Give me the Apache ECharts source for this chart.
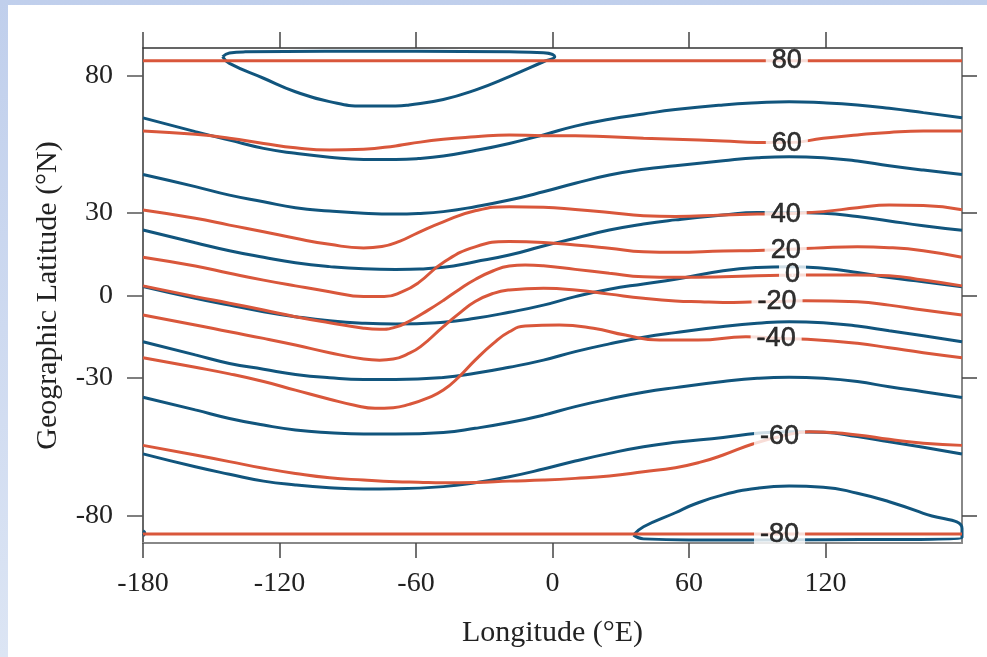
<!DOCTYPE html>
<html>
<head>
<meta charset="utf-8">
<script src="https://cdn.jsdelivr.net/npm/echarts@6/dist/echarts.min.js"></script>
<style>
  html, body { margin: 0; padding: 0; width: 987px; height: 657px; overflow: hidden;
    background: linear-gradient(to bottom, #c0cfec, #dce5f4); }
  #chart { position: absolute; left: 8px; top: 5px; width: 979px; height: 652px; background: #fff; }
</style>
</head>
<body>
<div id="chart"></div>
<script>
// tick positions
const lonTicks = [-180, -120, -60, 0, 60, 120];
const latTicks = [80, 30, 0, -30, -80];

// blue contours, [longitude, latitude]
const blue80 = [[-145, 86.8], [-142, 84.4], [-127, 79], [-113, 74.1], [-98, 70.5], [-83, 68.9], [-69, 68.9],
    [-63, 69.3], [-48, 71.3], [-34, 74.7], [-19, 79.6], [-4, 85], [1, 86.8], [-4, 88.3], [-19, 88.6],
    [-60, 88.8], [-100, 88.8], [-135, 88.6], [-142, 88.2], [-145, 86.8]];
const blue60 = [[-180, 64.6], [-157, 59.6], [-142, 56.5], [-127, 53.5], [-113, 51.7], [-98, 50.3], [-83, 49.5],
    [-69, 49.5], [-59, 49.8], [-48, 50.7], [-34, 52.7], [-19, 55.3], [-4, 58.4], [10, 61.6], [25, 64.1], [40, 66],
    [54, 67.6], [75, 69.3], [90, 70.1], [104, 70.5], [119, 70.1], [134, 69.3], [148, 68.1], [163, 66.5], [180, 64.6]];
const blue40 = [[-180, 44], [-157, 39.6], [-142, 36.5], [-127, 34.1], [-113, 31.9], [-98, 30.7], [-83, 29.9],
    [-69, 29.6], [-59, 29.8], [-48, 30.5], [-34, 32.3], [-19, 34.7], [-4, 37.7], [10, 40.8], [25, 43.8], [40, 45.9],
    [54, 47.2], [75, 49], [90, 50.1], [104, 50.5], [119, 50.1], [134, 48.9], [148, 47.2], [163, 45.6], [180, 44]];
const blue20 = [[-180, 23.8], [-157, 19.2], [-142, 16.3], [-127, 13.9], [-113, 11.9], [-98, 10.5], [-83, 9.7],
    [-69, 9.5], [-48, 10.3], [-34, 12.3], [-19, 14.7], [-4, 18], [10, 20.8], [25, 23.8], [40, 26], [54, 27.5],
    [75, 29.3], [90, 30.2], [104, 30.2], [119, 29.9], [134, 28.7], [148, 27.1], [163, 25.4], [180, 23.7]];
const blue0 = [[-180, 3.3], [-157, -1], [-142, -3.5], [-127, -5.9], [-113, -7.7], [-98, -9.2], [-83, -10.1],
    [-69, -10.4], [-48, -9.7], [-34, -8.3], [-19, -6.1], [-4, -3.5], [10, -0.4], [25, 2.3], [40, 4.2], [54, 5.9],
    [75, 9], [90, 10.2], [104, 10.5], [119, 9.9], [134, 8.4], [148, 6.5], [163, 5], [180, 3.2]];
const blueS20 = [[-180, -16.8], [-157, -21.6], [-142, -24.7], [-127, -26.8], [-113, -28.7], [-98, -29.9],
    [-83, -30.5], [-69, -30.5], [-48, -29.8], [-34, -28.3], [-19, -26.1], [-4, -23.5], [10, -20.4], [25, -17.6],
    [40, -15.2], [54, -13.5], [75, -11.3], [90, -10.1], [104, -9.5], [119, -9.9], [134, -11.1], [148, -12.8],
    [163, -14.6], [180, -16.8]];
const blueS40 = [[-180, -37], [-157, -41.6], [-142, -44.7], [-127, -47.1], [-113, -48.9], [-98, -49.9],
    [-83, -50.4], [-69, -50.4], [-48, -49.8], [-34, -48.3], [-19, -46.2], [-4, -43.5], [10, -40.4], [25, -37.6],
    [40, -35.2], [54, -33.5], [75, -31.3], [90, -30.1], [104, -29.7], [119, -30.1], [134, -31.3], [148, -33.2],
    [163, -35], [180, -37.1]];
const blueS60 = [[-180, -57.6], [-157, -62.3], [-142, -65], [-127, -67.5], [-113, -68.9], [-98, -69.9],
    [-83, -70.4], [-69, -70.3], [-48, -69.5], [-34, -68.1], [-19, -65.9], [-4, -63.1], [10, -60.2], [25, -57.4],
    [40, -55], [54, -53.4], [75, -51.6], [90, -50.1], [104, -49.5], [119, -49.7], [134, -51.3], [148, -53.2],
    [163, -55.2], [180, -57.6]];
const blueS80 = [[35.6, -87.1], [40, -84.1], [54, -79], [62, -76], [75, -72.5], [90, -70.1], [104, -69.3],
    [119, -69.7], [134, -71.9], [148, -75], [163, -79.2], [180, -84.7], [180, -88], [120, -88.8], [60, -88.9],
    [40, -88.5], [35.6, -87.1]];
const blueS80Wrap = [[-180, -85.6], [-179.2, -86.4], [-180, -87.4]];

// red contours, [longitude, latitude]
const red80 = [[-180, 85.4], [180, 85.4]];
const red60 = [[-180, 59.8], [-157, 58.6], [-142, 57.2], [-127, 55.3], [-113, 53.7], [-98, 52.9], [-83, 53.2],
    [-69, 54.4], [-63, 55.2], [-48, 56.8], [-34, 57.7], [-19, 58.4], [-4, 58.1], [10, 58.1], [25, 57.7], [40, 57.2],
    [54, 56.8], [75, 56.2], [90, 55.6], [104, 55.6], [119, 57.2], [134, 58.4], [148, 59.3], [163, 59.8], [180, 59.8]];
const red40 = [[-180, 31.1], [-157, 28.1], [-142, 25.6], [-127, 23.2], [-113, 20.8], [-98, 18.6], [-83, 17.3],
    [-75, 17.8], [-67, 19.8], [-59, 22.9], [-48, 26.8], [-34, 30.8], [-19, 32.3], [-4, 32.1], [10, 31.3], [25, 30.2],
    [40, 29], [54, 28.7], [75, 29.3], [90, 29.6], [104, 29.8], [119, 30.5], [134, 31.9], [148, 32.9], [163, 32.7],
    [180, 31.2]];
const red20 = [[-180, 13.9], [-157, 10.7], [-142, 8.1], [-127, 5.6], [-113, 3.5], [-98, 1.4], [-83, -0.4],
    [-74, -0.4], [-66, 1.4], [-59, 4.6], [-48, 12], [-34, 17.7], [-19, 19.6], [-4, 19.3], [10, 18.4], [25, 17.2],
    [40, 15.9], [54, 15.7], [75, 16.2], [90, 16.4], [104, 16.8], [119, 17.4], [134, 17.7], [148, 17.4], [163, 16.3],
    [180, 13.9]];
const red0 = [[-180, 3.5], [-157, -0.4], [-142, -2.8], [-127, -5.3], [-113, -7.7], [-98, -9.9], [-83, -11.9],
    [-76, -12.3], [-69, -11.5], [-62, -8.9], [-55, -5.5], [-48, -1.8], [-41, 2.2], [-34, 5.8], [-26, 9], [-19, 10.7],
    [-12, 11.1], [-4, 10.8], [10, 9.5], [25, 8.1], [40, 6.8], [54, 6.6], [75, 6.8], [90, 7.2], [105, 7.4], [119, 7.5],
    [134, 7.5], [148, 7.2], [163, 5.6], [180, 3.5]];
const redS20 = [[-180, -7.1], [-157, -10.7], [-142, -13.2], [-127, -15.6], [-113, -18], [-98, -20.8],
    [-83, -23.1], [-76, -23.5], [-70, -23.1], [-64, -21.4], [-58, -18.6], [-48, -11.3], [-41, -6.5], [-34, -2.2],
    [-26, 0.8], [-19, 2], [-4, 2.6], [10, 2], [25, 0.5], [40, -1], [54, -2], [65, -2.3], [75, -2.5], [90, -2.3],
    [100, -2.2], [111, -1.9], [134, -2.3], [148, -3.5], [163, -5.3], [180, -7.1]];
const redS40 = [[-180, -22.6], [-157, -26.1], [-142, -28.5], [-127, -31.3], [-113, -34.4], [-98, -37.7],
    [-87, -39.9], [-78, -41], [-70, -40.8], [-63, -39.6], [-55, -37.3], [-48, -34.4], [-41, -29.5], [-34, -23.5],
    [-26, -17.4], [-19, -13.2], [-12, -11.1], [3, -10.7], [18, -11.9], [32, -14.4], [47, -16.2], [64, -16.2],
    [85, -15], [100, -15.6], [112, -15.9], [134, -17.4], [148, -19], [163, -20.8], [180, -22.6]];
const redS60 = [[-180, -54.5], [-157, -58], [-142, -60.4], [-127, -62.8], [-113, -64.7], [-98, -66.3],
    [-83, -67.1], [-69, -67.7], [-59, -67.9], [-48, -68.1], [-34, -68], [-19, -67.5], [-4, -67.1], [10, -66.5],
    [25, -65.6], [40, -64.1], [54, -62.6], [65, -60.6], [75, -58], [88, -54], [100, -51.3], [113, -49.5],
    [134, -50.7], [148, -52.3], [163, -53.7], [180, -54.5]];
const redS80 = [[-180, -86.7], [180, -86.7]];

// contour labels
const labelText = ['80', '60', '40', '20', '0', '-20', '-40', '-60', '-80'];
const labelLon = [103, 103, 102.5, 102.5, 105.5, 98.7, 98.3, 99.8, 99.8];
const labelLat = [85.3, 55.3, 29.6, 16.5, 7.5, -2.2, -15.8, -51.3, -86.8];

const blueLines = [blue80, blue60, blue40, blue20, blue0, blueS20, blueS40, blueS60, blueS80, blueS80Wrap];
const redLines = [red80, red60, red40, red20, red0, redS20, redS40, redS60, redS80];

const BLUE = '#11557d';
const RED = '#d9573b';
const serif = '"Liberation Serif", "DejaVu Serif", serif';

function lineSeries(data, color) {
    return {
        type: 'line',
        data: data,
        smooth: 0.5,
        showSymbol: false,
        symbol: 'none',
        silent: true,
        lineStyle: { color: color, width: 3 },
        z: color === RED ? 3 : 2
    };
}

const series = [];
blueLines.forEach(function (d) { series.push(lineSeries(d, BLUE)); });
redLines.forEach(function (d) { series.push(lineSeries(d, RED)); });
series.push({
    type: 'scatter',
    data: labelText.map(function (t, i) { return [labelLon[i], labelLat[i], t]; }),
    symbolSize: 2,
    itemStyle: { color: '#fff' },
    z: 5,
    silent: true,
    label: {
        show: true,
        position: 'inside',
        formatter: function (p) { return p.value[2]; },
        fontFamily: '"Liberation Sans", Arial, sans-serif',
        fontSize: 27,
        color: '#000',
        textBorderColor: '#000',
        textBorderWidth: 0.6,
        backgroundColor: '#fff',
        lineHeight: 20,
        padding: [0, 6]
    },
    labelLayout: { hideOverlap: false }
});

const chart = echarts.init(document.getElementById('chart'));

function xAxisBase(pos) {
    return {
        type: 'value',
        position: pos,
        min: -180,
        max: 180,
        interval: 60,
        splitLine: { show: false }
    };
}

const option = {
    animation: false,
    grid: { left: 135, top: 43, right: 25, bottom: 114 },
    xAxis: [Object.assign(xAxisBase('bottom'), {
        name: 'Longitude (°E)',
        nameLocation: 'middle',
        nameGap: 75,
        nameTextStyle: { fontFamily: serif, fontSize: 30, color: '#222' },
        axisLine: { show: true, onZero: false, lineStyle: { color: '#888', width: 2 } },
        axisTick: { show: true, inside: false, length: 15, customValues: lonTicks, lineStyle: { color: '#444', width: 1.5 } },
        axisLabel: { customValues: lonTicks, margin: 27, fontFamily: serif, fontSize: 28, color: '#222' }
    }), Object.assign(xAxisBase('top'), {
        axisLine: { show: true, onZero: false, lineStyle: { color: '#333', width: 1.5 } },
        axisTick: { show: true, inside: false, length: 16, customValues: lonTicks, lineStyle: { color: '#444', width: 1.5 } },
        axisLabel: { show: false }
    })],
    yAxis: [{
        type: 'value',
        position: 'left',
        min: -90,
        max: 90,
        interval: 10,
        name: 'Geographic Latitude (°N)',
        nameLocation: 'middle',
        nameRotate: 90,
        nameGap: 80,
        nameTextStyle: { fontFamily: serif, fontSize: 30, color: '#222' },
        axisLine: { show: true, onZero: false, lineStyle: { color: '#333', width: 1.5 } },
        axisTick: { show: true, inside: false, length: 16, customValues: latTicks, lineStyle: { color: '#555', width: 1.5 } },
        axisLabel: { customValues: latTicks, margin: 30, fontFamily: serif, fontSize: 28, color: '#222' },
        splitLine: { show: false }
    }, {
        type: 'value',
        position: 'right',
        min: -90,
        max: 90,
        interval: 10,
        axisLine: { show: true, onZero: false, lineStyle: { color: '#888', width: 2 } },
        axisTick: { show: true, inside: false, length: 15, customValues: latTicks, lineStyle: { color: '#444', width: 1.5 } },
        axisLabel: { show: false },
        splitLine: { show: false }
    }],
    series: series
};

option && chart.setOption(option);
</script>
</body>
</html>
